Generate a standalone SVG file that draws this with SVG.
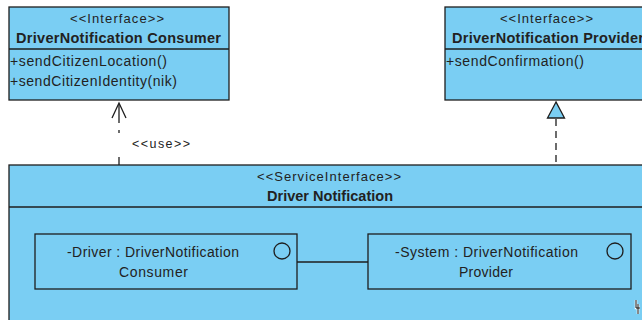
<svg xmlns="http://www.w3.org/2000/svg" width="642" height="320" viewBox="0 0 642 320">
  <style>
    .box { fill: #7ACEF3; stroke: #1E1E1E; stroke-width: 1.3; }
    .line { fill: none; stroke: #1E1E1E; stroke-width: 1.3; }
    .t { font-family: "Liberation Sans", Arial, sans-serif; fill: #222; }
    .st { font-size: 13px; }
    .name { font-size: 14.5px; font-weight: bold; }
    .op { font-size: 14px; }
    .part { font-size: 14px; }
  </style>

  <!-- Interface: DriverNotification Consumer -->
  <g id="consumer">
    <rect class="box" x="9" y="7" width="220" height="93"/>
    <line class="line" x1="9" y1="49" x2="229" y2="49"/>
    <text class="t st" x="70" y="23" textLength="94" lengthAdjust="spacing">&lt;&lt;Interface&gt;&gt;</text>
    <text class="t name" x="16" y="43" textLength="205" lengthAdjust="spacing">DriverNotification Consumer</text>
    <text class="t op" x="10" y="66" textLength="157" lengthAdjust="spacing">+sendCitizenLocation()</text>
    <text class="t op" x="10" y="86" textLength="167" lengthAdjust="spacing">+sendCitizenIdentity(nik)</text>
  </g>

  <!-- Interface: DriverNotification Provider -->
  <g id="provider">
    <rect class="box" x="445" y="7" width="220" height="93"/>
    <line class="line" x1="445" y1="49" x2="665" y2="49"/>
    <text class="t st" x="500" y="23" textLength="93" lengthAdjust="spacing">&lt;&lt;Interface&gt;&gt;</text>
    <text class="t name" x="452" y="43" textLength="192" lengthAdjust="spacing">DriverNotification Provider</text>
    <text class="t op" x="446" y="66" textLength="138" lengthAdjust="spacing">+sendConfirmation()</text>
  </g>

  <!-- Service interface with its two parts -->
  <g id="service">
    <rect class="box" x="9" y="165" width="645" height="170"/>
    <line class="line" x1="9" y1="207" x2="654" y2="207"/>
    <text class="t st" x="257" y="181" textLength="144" lengthAdjust="spacing">&lt;&lt;ServiceInterface&gt;&gt;</text>
    <text class="t name" x="267" y="201" textLength="126" lengthAdjust="spacing">Driver Notification</text>
  </g>

  <g id="part-driver">
    <rect class="box" x="35" y="234" width="262" height="55"/>
    <circle class="line" cx="282" cy="251" r="8"/>
    <text class="t part" x="67" y="257" textLength="172" lengthAdjust="spacing">-Driver : DriverNotification</text>
    <text class="t part" x="119" y="277" textLength="69" lengthAdjust="spacing">Consumer</text>
  </g>

  <g id="part-system">
    <rect class="box" x="368" y="234" width="263" height="55"/>
    <circle class="line" cx="615" cy="251" r="8"/>
    <text class="t part" x="395" y="257" textLength="183" lengthAdjust="spacing">-System : DriverNotification</text>
    <text class="t part" x="459" y="277" textLength="54" lengthAdjust="spacing">Provider</text>
  </g>

  <!-- Connectors -->
  <g id="connectors">
    <!-- usage dependency to the consumer interface -->
    <line class="line" x1="119" y1="104" x2="119" y2="123"/>
    <line class="line" x1="119" y1="130" x2="119" y2="133"/>
    <line class="line" x1="119" y1="157" x2="119" y2="165"/>
    <polyline class="line" points="112,118 119,103 126,118"/>
    <text class="t" x="132" y="148" font-size="12.5" textLength="58" lengthAdjust="spacing">&lt;&lt;use&gt;&gt;</text>

    <!-- realization to the provider interface -->
    <line class="line" x1="556" y1="119" x2="556" y2="165" stroke-dasharray="7,5"/>
    <polygon class="box" points="556,102 547.5,118 564.5,118"/>

    <!-- connector between the two parts -->
    <line class="line" x1="297" y1="262" x2="368" y2="262"/>
  </g>

  <!-- resize handle -->
  <path d="M636,300 v8 h4 M638,304 v10" fill="none" stroke="#fff" stroke-width="2.5"/>
  <path d="M636,300 v8 h4 M638,304 v10" fill="none" stroke="#111" stroke-width="1"/>
</svg>
